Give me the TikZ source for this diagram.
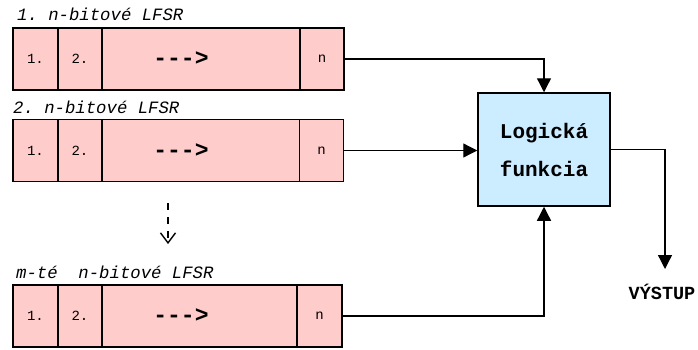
\documentclass[tikz,border=0pt]{standalone}
\usepackage{fontspec}
\setmonofont{Liberation Mono}
\usetikzlibrary{arrows.meta}
\definecolor{lfsrpink}{RGB}{255,204,204}
\definecolor{logicblue}{RGB}{204,236,255}
\begin{document}
\begin{tikzpicture}[x=1pt,y=-1pt,
 cell/.style={draw,line width=1.5pt,fill=lfsrpink,minimum height=62pt,inner sep=0pt,font=\ttfamily\fontsize{14}{14}\selectfont},
 arrowtext/.style={font=\ttfamily\bfseries\fontsize{23}{23}\selectfont,xshift=-20pt,inner sep=0pt},
 lbl/.style={anchor=west,inner sep=0pt,font=\ttfamily\itshape\fontsize{17.3}{17.3}\selectfont},
 conn/.style={line width=1.3pt},
 tip/.style={-{Triangle[length=14pt,width=14pt]}}
]
\useasboundingbox (0,0) rectangle (698,349);
% LFSR 1
\node[lbl] (l1) at (17,14) {1. n-bitové LFSR};
\node[cell,minimum width=45pt] (a1) at (35.5,59) {1.};
\node[cell,minimum width=44pt] (b1) at (80,59) {2.};
\node[cell,minimum width=198pt,label={[arrowtext]center:--->}] (c1) at (201,59) {};
\node[cell,minimum width=44pt] (n1) at (322,59) {n};
% LFSR 2
\node[lbl] (l2) at (13,107) {2. n-bitové LFSR};
\node[cell,minimum width=45pt] (a2) at (35.5,150.5) {1.};
\node[cell,minimum width=44pt] (b2) at (80,150.5) {2.};
\node[cell,minimum width=198pt,label={[arrowtext]center:--->}] (c2) at (201,150.5) {};
\node[cell,minimum width=44pt] (n2) at (321.5,150.5) {n};
% LFSR m
\node[lbl] (l3) at (16,272) {m-té~~n-bitové LFSR};
\node[cell,minimum width=45pt] (a3) at (35.5,316) {1.};
\node[cell,minimum width=44pt] (b3) at (80,316) {2.};
\node[cell,minimum width=195pt,label={[arrowtext,xshift=1.5pt]center:--->}] (c3) at (199.5,316) {};
\node[cell,minimum width=45pt] (n3) at (319.5,316) {n};
% dashed arrow
\coordinate (d1) at (168,203);
\coordinate (d2) at (168,244);
\draw[line width=1.4pt,dash pattern=on 7pt off 7pt,-{Straight Barb[length=10pt,width=15pt]}] (d1) -- (d2);
% logic
\node[draw,line width=1.5pt,fill=logicblue,minimum width=132pt,minimum height=113pt,inner sep=0pt,align=center,
  font=\ttfamily\bfseries\fontsize{21}{38}\selectfont] (logic) at (544,149.5) {Logická\\funkcia};
% output
\coordinate (outtip) at (665,269);
\node[inner sep=0pt,font=\ttfamily\bfseries\fontsize{18.5}{18.5}\selectfont] (out) at (662,292) {VÝSTUP};
% connectors
\draw[conn,tip] (n1.east) -| (logic.north);
\draw[conn,tip] (n2.east) -- (logic.west |- n2.east);
\draw[conn,tip] (n3.east) -| (logic.south);
\draw[conn,tip] (logic.east) -| (outtip);
\end{tikzpicture}
\end{document}
